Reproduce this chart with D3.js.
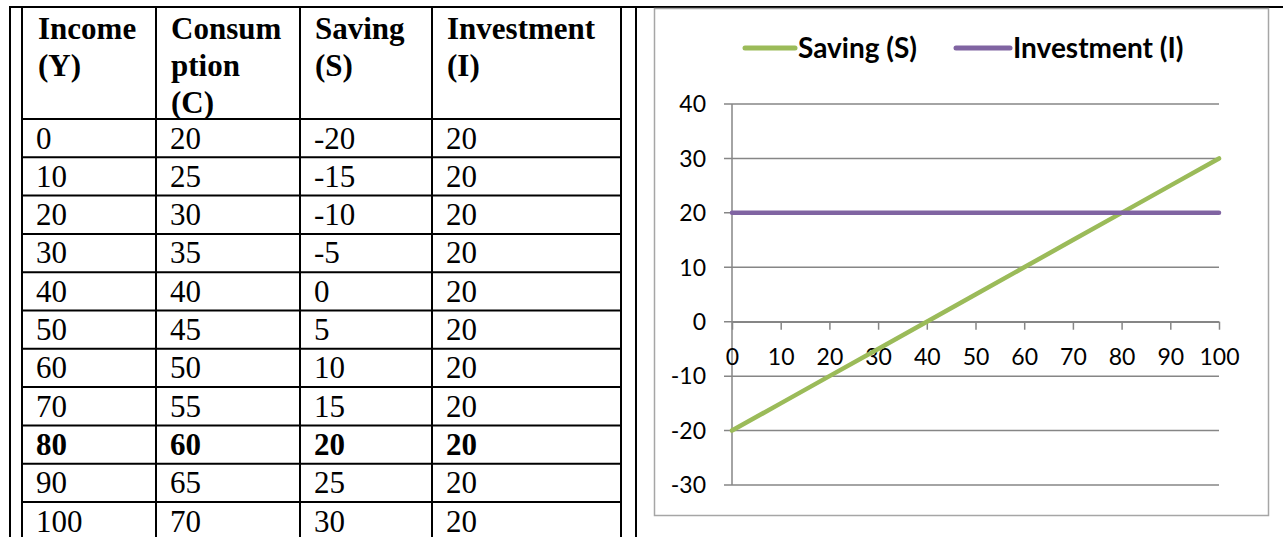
<!DOCTYPE html>
<html>
<head>
<meta charset="utf-8">
<script src="https://cdn.jsdelivr.net/npm/d3@7"></script>
<style>
  html, body { margin: 0; padding: 0; background: #fff; }
  svg { display: block; }
</style>
</head>
<body>
<svg id="page" width="1283" height="537"></svg>
<script>
// Income-expenditure schedule
const income      = [0, 10, 20, 30, 40, 50, 60, 70, 80, 90, 100];
const consumption = [20, 25, 30, 35, 40, 45, 50, 55, 60, 65, 70];
const saving      = [-20, -15, -10, -5, 0, 5, 10, 15, 20, 25, 30];
const investment  = [20, 20, 20, 20, 20, 20, 20, 20, 20, 20, 20];

// Column headings (one entry per wrapped line)
const headings = [
  ["Income", "(Y)"],
  ["Consum", "ption", "(C)"],
  ["Saving", "(S)"],
  ["Investment", "(I)"]
];

// Equilibrium row (S = I) is set in bold
const equilibriumIncome = 80;

// Chart axes and legend
const xTickValues = [0, 10, 20, 30, 40, 50, 60, 70, 80, 90, 100];
const yTickValues = [-30, -20, -10, 0, 10, 20, 30, 40];
const seriesNames = ["Saving (S)", "Investment (I)"];
const seriesColors = ["#9bbb59", "#8064a2"];

const svg = d3.select("#page");

// ---------- outer layout frame ----------
const frame = svg.append("g").attr("stroke", "#000").attr("stroke-width", 2);
frame.append("line").attr("x1", 9).attr("x2", 1283).attr("y1", 7).attr("y2", 7);
frame.append("line").attr("x1", 10).attr("x2", 10).attr("y1", 6).attr("y2", 537);
frame.append("line").attr("x1", 636).attr("x2", 636).attr("y1", 6).attr("y2", 537);

// ---------- table ----------
const colEdges = [22, 156, 300, 432, 621];
const headTop = 7, headBottom = 119, rowH = 38.3;
const rows = income.map((y, i) => ({
  cells: [income[i], consumption[i], saving[i], investment[i]],
  bold: income[i] === equilibriumIncome
}));

const table = svg.append("g")
  .attr("font-family", "'Liberation Serif', 'Times New Roman', serif")
  .attr("font-size", 31)
  .attr("fill", "#000");

// grid lines of the table
const tLines = table.append("g").attr("stroke", "#000").attr("stroke-width", 2);
tLines.selectAll("line.v").data(colEdges).join("line")
  .attr("class", "v")
  .attr("x1", d => d).attr("x2", d => d)
  .attr("y1", headTop).attr("y2", 537);
const hEdges = [headBottom].concat(rows.map((r, i) => headBottom + rowH * (i + 1)));
tLines.selectAll("line.h").data(hEdges).join("line")
  .attr("class", "h")
  .attr("x1", colEdges[0]).attr("x2", colEdges[colEdges.length - 1])
  .attr("y1", d => d).attr("y2", d => d);

// headings
const pad = 16;
headings.forEach((lines, c) => {
  table.append("text")
    .attr("font-weight", "bold")
    .selectAll("tspan").data(lines).join("tspan")
    .attr("x", colEdges[c] + pad - (c === 0 ? 0 : 1))
    .attr("y", (d, i) => 39 + i * 37)
    .text(d => d);
});

// body rows
rows.forEach((r, i) => {
  const base = headBottom + rowH * i + 29.5;
  table.append("g")
    .attr("font-weight", r.bold ? "bold" : "normal")
    .selectAll("text").data(r.cells).join("text")
    .attr("x", (d, c) => colEdges[c] + pad - 2)
    .attr("y", base)
    .text(d => d);
});

// ---------- chart ----------
const chart = svg.append("g").attr("font-family", "Lato, 'Open Sans', sans-serif");

chart.append("rect")
  .attr("x", 654.5).attr("y", 8.5)
  .attr("width", 614).attr("height", 507)
  .attr("fill", "#fff")
  .attr("stroke", "#a6a6a6").attr("stroke-width", 1.5);

const x = d3.scaleLinear().domain([0, 100]).range([732, 1219]);
const y = d3.scaleLinear().domain([-30, 40]).range([485, 104]);

// horizontal gridlines with left tick stubs
chart.append("g")
  .attr("stroke", "#868686").attr("stroke-width", 1.5)
  .selectAll("line").data(yTickValues).join("line")
  .attr("x1", x(0) - 8).attr("x2", x(100))
  .attr("y1", d => y(d)).attr("y2", d => y(d));

// y axis line
chart.append("line")
  .attr("x1", x(0)).attr("x2", x(0))
  .attr("y1", y(40)).attr("y2", y(-30))
  .attr("stroke", "#868686").attr("stroke-width", 1.5);

// y tick labels
chart.append("g")
  .attr("font-size", 23).attr("fill", "#000").attr("text-anchor", "end")
  .selectAll("text").data(yTickValues).join("text")
  .attr("x", x(0) - 26)
  .attr("y", d => y(d))
  .attr("dy", "0.36em")
  .text(d => d);

// x axis crossing at zero
const xAxis = d3.axisBottom(x).tickValues(xTickValues).tickSize(8).tickSizeOuter(0).tickPadding(0);
const xAxisG = chart.append("g")
  .attr("transform", `translate(0,${y(0)})`)
  .call(xAxis);
xAxisG.select(".domain").attr("stroke", "#868686").attr("stroke-width", 1.5);
xAxisG.selectAll(".tick line").attr("stroke", "#868686").attr("stroke-width", 1.5);
xAxisG.selectAll(".tick text")
  .attr("font-family", "Lato, 'Open Sans', sans-serif")
  .attr("font-size", 23).attr("fill", "#000")
  .attr("y", 35).attr("dy", "0.36em");

// series lines
const line = d3.line().x(d => x(d[0])).y(d => y(d[1]));
const series = [saving, investment];
chart.append("g").selectAll("path").data(series).join("path")
  .attr("d", vals => line(income.map((v, i) => [v, vals[i]])))
  .attr("fill", "none")
  .attr("stroke", (d, i) => seriesColors[i])
  .attr("stroke-width", 4.5)
  .attr("stroke-linecap", "round");

// legend
const legendItems = [
  { name: seriesNames[0], color: seriesColors[0], x0: 745, x1: 795 },
  { name: seriesNames[1], color: seriesColors[1], x0: 956, x1: 1010 }
];
const lg = chart.append("g").selectAll("g").data(legendItems).join("g");
lg.append("line")
  .attr("x1", d => d.x0).attr("x2", d => d.x1)
  .attr("y1", 48).attr("y2", 48)
  .attr("stroke", d => d.color).attr("stroke-width", 5).attr("stroke-linecap", "round");
lg.append("text")
  .attr("x", d => d.x1 + 3).attr("y", 48).attr("dy", "0.36em")
  .attr("font-size", 28).attr("font-weight", "bold").attr("fill", "#000")
  .text(d => d.name);
</script>
</body>
</html>
